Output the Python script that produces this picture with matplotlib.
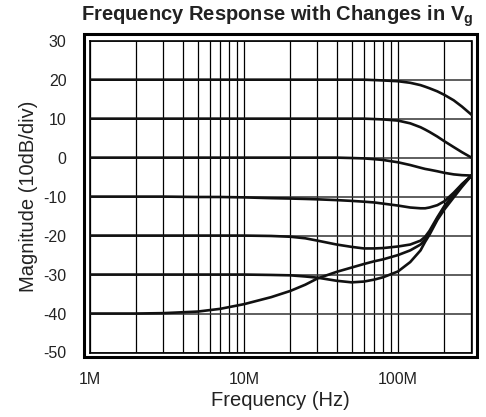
import numpy as np
import matplotlib
matplotlib.use('Agg')
import matplotlib.pyplot as plt
from matplotlib.patches import Rectangle
from matplotlib.ticker import LogLocator, NullFormatter, FixedLocator, FixedFormatter

plt.rcParams['font.family'] = ['Liberation Sans', 'DejaVu Sans']
plt.rcParams['mathtext.fontset'] = 'custom'
plt.rcParams['mathtext.rm'] = 'Liberation Sans'
plt.rcParams['mathtext.bf'] = 'Liberation Sans:bold'

# frecuencias en MHz (mismo eje para todas las curvas)
freq_mhz = [1, 2, 3, 5, 7, 10, 15, 20, 25, 30, 40, 50, 60, 70, 80,
            100, 120, 140, 150, 160, 180, 200, 230, 260, 300]

# curvas (dB)
curva_20 = [20, 20, 20, 20, 20, 20, 20, 20, 20, 20, 20, 20, 20, 19.9, 19.8,
            19.6, 19.2, 18.6, 18.2, 17.8, 17.0, 16.1, 14.7, 13.1, 11.0]
curva_10 = [10, 10, 10, 10, 10, 10, 10, 10, 10, 10, 10, 10, 10, 9.9, 9.8,
            9.5, 8.8, 7.8, 7.2, 6.6, 5.4, 4.2, 2.7, 1.4, 0.0]
curva_0 = [0, 0, 0, 0, 0, 0, 0, 0, 0, 0, 0, -0.1, -0.2, -0.4, -0.6,
           -1.2, -1.9, -2.6, -2.9, -3.1, -3.5, -3.9, -4.3, -4.5, -4.6]
curva_m10 = [-10, -10, -10, -10.1, -10.1, -10.2, -10.4, -10.5, -10.6, -10.7, -10.9, -11.1, -11.3, -11.5, -11.8,
             -12.3, -12.8, -13.0, -13.0, -12.8, -12.2, -11.2, -9.0, -6.8, -4.6]
curva_m20 = [-20, -20, -20, -20, -20, -20, -20.1, -20.3, -20.7, -21.3, -22.3, -22.9, -23.3, -23.3, -23.2,
             -22.8, -22.3, -21.3, -20.3, -18.8, -15.3, -12.4, -9.4, -6.9, -4.6]
curva_m30 = [-30, -30, -30, -30, -30, -30, -30.1, -30.2, -30.5, -30.8, -31.6, -32.0, -31.8, -31.3, -30.7,
             -29.2, -26.8, -23.8, -21.6, -19.8, -16.0, -13.3, -10.2, -7.5, -4.6]
curva_m40 = [-40, -40, -39.9, -39.5, -38.8, -37.6, -35.8, -34.2, -32.6, -31.0, -29.3, -28.2, -27.3, -26.6, -26.1,
             -25.0, -23.8, -22.3, -21.0, -19.3, -15.6, -12.8, -9.8, -7.2, -4.6]

curvas = [curva_20, curva_10, curva_0, curva_m10, curva_m20, curva_m30, curva_m40]

xticks_hz = [1e6, 1e7, 1e8]
xtick_labels = ['1M', '10M', '100M']
yticks = [30, 20, 10, 0, -10, -20, -30, -40, -50]

W, H = 486, 417
fig = plt.figure(figsize=(W / 100, H / 100), dpi=100)
ax = fig.add_axes([90 / W, 1 - 352.5 / H, (471.5 - 90) / W, (352.5 - 40.7) / H])

f = np.array(freq_mhz) * 1e6
for c in curvas:
    ax.plot(f, c, color='#111111', lw=1.9, solid_capstyle='round', solid_joinstyle='round', zorder=3)

ax.set_xscale('log')
ax.set_xlim(1e6, 3e8)
ax.set_ylim(-50, 30)
ax.xaxis.set_major_locator(FixedLocator(xticks_hz))
ax.xaxis.set_major_formatter(FixedFormatter(xtick_labels))
ax.xaxis.set_minor_locator(LogLocator(base=10, subs=range(2, 10)))
ax.xaxis.set_minor_formatter(NullFormatter())
ax.set_yticks(yticks)
ax.set_yticklabels([str(v) for v in yticks])

ax.grid(True, which='both', axis='x', color='black', lw=0.9)
ax.grid(True, which='major', axis='y', color='#333333', lw=1.1)
ax.tick_params(axis='both', which='both', length=0, labelsize=11.5, colors='#222222')
ax.tick_params(axis='x', pad=14)
ax.tick_params(axis='y', pad=17)
for s in ax.spines.values():
    s.set_color('black')
    s.set_linewidth(1.2)

ax.set_xlabel('Frequency (Hz)', fontsize=14.5, color='#222222', labelpad=3)
ax.set_ylabel('Magnitude (10dB/div)', fontsize=14.5, color='#222222', labelpad=4)

# marco doble exterior
marco = Rectangle((83.5 / W, 1 - 356.5 / H), (477 - 83.5) / W, (356.5 - 34) / H,
                  transform=fig.transFigure, fill=False, lw=2.2, ec='black')
fig.patches.append(marco)

fig.text(277 / W, 1 - 16 / H, r'Frequency Response with Changes in $\mathbf{V_g}$',
         ha='center', va='center', fontsize=14.5, fontweight='bold', color='#222222')

fig.savefig('out.png', dpi=100)
